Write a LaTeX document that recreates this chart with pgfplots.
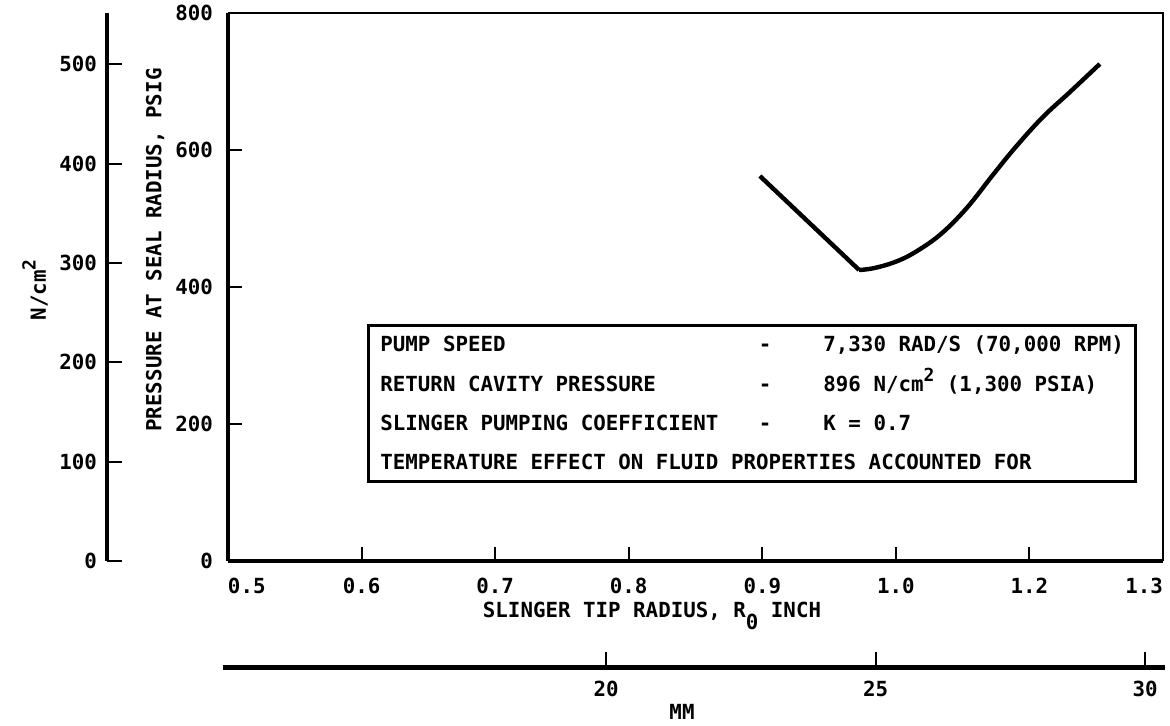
\documentclass[border=0pt]{standalone}
\usepackage{fontspec}
\setmainfont{DejaVu Sans Mono}
\usepackage{pgfplots}
\pgfplotsset{compat=1.18}
\newcommand{\lf}{\fontsize{10.4}{12.5}\selectfont\bfseries}

\begin{document}
\begin{tikzpicture}
\useasboundingbox (-114pt,-82.5pt) rectangle (471pt,280.5pt);

% main axis: pressure (PSIG) against slinger tip radius (inch)
\begin{axis}[
  at={(0pt,0pt)}, anchor=south west,
  scale only axis, width=467.5pt, height=274pt,
  xmin=0.5, xmax=1.2, ymin=0, ymax=800,
  axis lines=left,
  axis line style={line width=2.2pt, -},
  tick align=inside,
  major tick length=7pt,
  tick style={line width=1pt, black},
  xtick={0.5,0.6,0.7,0.8,0.9,1.0,1.1,1.2},
  xticklabels={\makebox[0pt][l]{0.5},0.6,0.7,0.8,0.9,1.0,1.2,\makebox[0pt][r]{1.3}},
  ytick={0,200,400,600,800},
  tick label style={font=\lf},
  xticklabel style={yshift=-5pt},
  yticklabel style={xshift=-4pt},
  /pgf/number format/assume math mode=true,
  clip=false,
]
\addplot[line width=2.2pt] coordinates {(0.8982,562.0) (0.9725,424.8)};
\addplot[line width=2.2pt, smooth, tension=0.6] coordinates {
  (0.9725,424.8) (0.9830,427.3) (0.9980,435.5) (1.0130,449.2)
  (1.0329,475.9) (1.0529,514.9) (1.0728,564.0) (1.0900,605.0)
  (1.1100,648.0) (1.1300,684.0) (1.1527,725.6)
};
\draw[line width=1.3pt] (rel axis cs:0,1) -- (rel axis cs:1,1) -- (rel axis cs:1,0);
\end{axis}

% left scale in N/cm^2
\begin{axis}[
  at={(-60.5pt,0pt)}, anchor=south west,
  scale only axis, width=10pt, height=274pt,
  xmin=0, xmax=1, ymin=0, ymax=551.6,
  axis y line=left, axis x line=none,
  axis line style={line width=2.2pt, -},
  tick align=inside, major tick length=7.5pt,
  tick style={line width=1pt, black},
  ytick={0,100,200,300,400,500},
  tick label style={font=\lf},
  yticklabel style={xshift=-1.5pt},
  /pgf/number format/assume math mode=true,
]
\end{axis}

% bottom scale in mm
\begin{axis}[
  at={(-2.5pt,-53.5pt)}, anchor=south west,
  scale only axis, width=471pt, height=10pt,
  xmin=12.89, xmax=30.37, ymin=0, ymax=1,
  axis x line=bottom, axis y line=none,
  axis line style={line width=2.5pt, -},
  tick align=inside, major tick length=8pt,
  tick style={line width=1pt, black},
  xtick={20,25,30},
  tick label style={font=\lf},
  xticklabel style={yshift=-3pt},
  /pgf/number format/assume math mode=true,
]
\end{axis}

% labels
\node[font=\lf] at (212pt,-27.5pt) {SLINGER TIP RADIUS, R\raisebox{-1ex}{0} INCH};
\node[font=\lf] at (227pt,-75.5pt) {MM};
\node[font=\lf, rotate=90] at (-36.5pt,155.5pt) {PRESSURE AT SEAL RADIUS, PSIG};
\node[font=\lf, rotate=90] at (-96.5pt,135.5pt) {N/cm\raisebox{0.9ex}{\fontsize{9}{10}\selectfont 2}};

% note box
\draw[line width=1.5pt] (70pt,39.5pt) rectangle (453.5pt,117.5pt);
\begin{scope}[every node/.style={font=\lf, inner sep=0pt}]
\node[anchor=base west] at (76pt,104.7pt) {PUMP SPEED};
\node[anchor=base west] at (76pt,84.7pt) {RETURN CAVITY PRESSURE};
\node[anchor=base west] at (76pt,65.2pt) {SLINGER PUMPING COEFFICIENT};
\node[anchor=base west] at (76pt,45.7pt) {TEMPERATURE EFFECT ON FLUID PROPERTIES ACCOUNTED FOR};
\node[anchor=base] at (268.5pt,104.7pt) {-};
\node[anchor=base] at (268.5pt,84.7pt) {-};
\node[anchor=base] at (268.5pt,65.2pt) {-};
\node[anchor=base west] at (297.5pt,104.7pt) {7,330 RAD/S (70,000 RPM)};
\node[anchor=base west] at (297.5pt,84.7pt) {896 N/cm\raisebox{0.9ex}{\fontsize{9}{10}\selectfont 2} (1,300 PSIA)};
\node[anchor=base west] at (297.5pt,65.2pt) {K = 0.7};
\end{scope}
\end{tikzpicture}
\end{document}
